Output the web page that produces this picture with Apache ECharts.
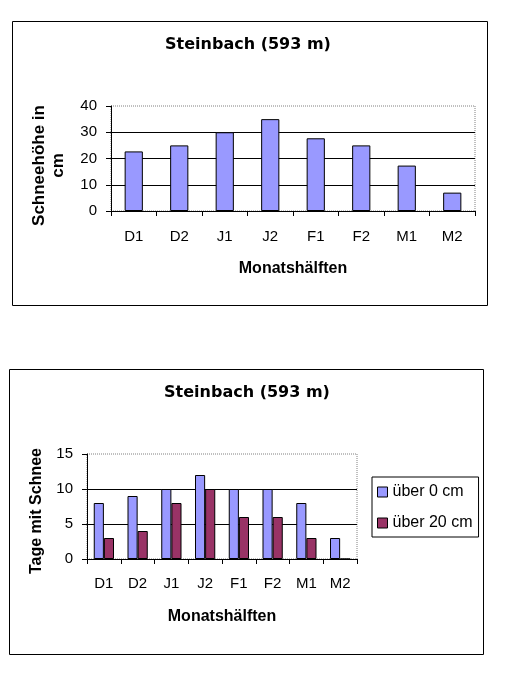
<!DOCTYPE html>
<html><head><meta charset="utf-8">
<script src="https://cdn.jsdelivr.net/npm/echarts@6/dist/echarts.min.js"></script>
<style>html,body{margin:0;padding:0;background:#fff}#c{width:510px;height:700px}</style>
</head><body><div id="c"></div><script>
// ---- data ----
const titleText = 'Steinbach (593 m)';
const categories = ['D1', 'D2', 'J1', 'J2', 'F1', 'F2', 'M1', 'M2'];
const snowDepth = [22.7, 25, 30, 35, 27.7, 25, 17.3, 7];
const daysOver0 = [8, 9, 10, 12, 10, 10, 8, 3];
const daysOver20 = [3, 4, 8, 10, 6, 6, 3, 0];
const seriesNames = ['über 0 cm', 'über 20 cm'];
const xAxisName = 'Monatshälften';
const yName1 = 'Schneehöhe in\ncm';
const yName2 = 'Tage mit Schnee';

// ---- styling ----
const F = 'Liberation Sans, Arial, sans-serif';
const TF = 'DejaVu Sans, Liberation Sans, sans-serif';
const BLUE = '#9999ff';
const RED = '#993366';

const chart = echarts.init(document.getElementById('c'), null, {renderer: 'canvas'});

function xAx(gi) {
  return {
    type: 'category', gridIndex: gi, data: categories,
    name: xAxisName, nameLocation: 'middle', nameGap: 50,
    nameTextStyle: {fontFamily: F, fontSize: 16, fontWeight: 'bold', color: '#000'},
    axisLine: {show: true, lineStyle: {color: '#000', width: 1}},
    axisTick: {show: true, length: 5, lineStyle: {color: '#000'}, alignWithLabel: false},
    axisLabel: {fontFamily: F, fontSize: 15, color: '#000', margin: gi === 0 ? 18 : 17, interval: 0},
    splitLine: {show: false}
  };
}
function yAx(gi, max, interval, name, gap, fs, lh, shift) {
  return {
    type: 'value', gridIndex: gi, min: 0, max: max, interval: interval,
    name: name, nameLocation: 'middle', nameGap: gap, nameRotate: 90,
    nameTextStyle: {fontFamily: F, fontSize: fs, fontWeight: 'bold', color: '#000', lineHeight: lh, padding: [0, shift, 0, 0]},
    axisLine: {show: true, lineStyle: {color: '#000', width: 1}},
    axisTick: {show: true, length: 5, lineStyle: {color: '#000'}},
    axisLabel: {fontFamily: F, fontSize: 15, color: '#000', margin: 14},
    splitLine: {show: true, showMinLine: false, showMaxLine: false, lineStyle: {color: '#000', width: 1}}
  };
}

const option = {
  animation: false,
  backgroundColor: '#fff',
  title: [
    {text: titleText, left: 248, top: 37, textAlign: 'center', padding: 0,
     textStyle: {fontFamily: TF, fontSize: 16, fontWeight: 'bold', color: '#000'}},
    {text: titleText, left: 247, top: 385, textAlign: 'center', padding: 0,
     textStyle: {fontFamily: TF, fontSize: 16, fontWeight: 'bold', color: '#000'}}
  ],
  graphic: [
    {type: 'rect', shape: {x: 12.5, y: 21.5, width: 475, height: 284}, style: {fill: null, stroke: '#000', lineWidth: 1}, silent: true},
    {type: 'rect', shape: {x: 9.5, y: 369.5, width: 474, height: 285}, style: {fill: null, stroke: '#000', lineWidth: 1}, silent: true}
  ],
  grid: [
    {left: 111, top: 106, width: 364, height: 105, show: true, borderColor: '#808080', borderWidth: 1, borderType: 'dotted', backgroundColor: 'transparent', containLabel: false},
    {left: 87, top: 454, width: 270, height: 105, show: true, borderColor: '#808080', borderWidth: 1, borderType: 'dotted', backgroundColor: 'transparent', containLabel: false}
  ],
  xAxis: [xAx(0), xAx(1)],
  yAxis: [yAx(0, 40, 10, yName1, 43, 17, 19, 14), yAx(1, 15, 5, yName2, 35, 16, 18, 9)],
  legend: {
    data: seriesNames, orient: 'vertical', left: 372, top: 477,
    padding: [7, 6, 6, 5], itemGap: 15, itemWidth: 10, itemHeight: 10,
    borderColor: '#000', borderWidth: 1, icon: 'rect',
    itemStyle: {borderColor: '#000', borderWidth: 1},
    textStyle: {fontFamily: F, fontSize: 16, color: '#000'}
  },
  series: [
    {type: 'bar', xAxisIndex: 0, yAxisIndex: 0, data: snowDepth, barCategoryGap: '60%',
     itemStyle: {color: BLUE, borderColor: '#000', borderWidth: 1}},
    {type: 'bar', name: seriesNames[0], xAxisIndex: 1, yAxisIndex: 1, data: daysOver0, barGap: '0%', barCategoryGap: '40%',
     itemStyle: {color: BLUE, borderColor: '#000', borderWidth: 1}},
    {type: 'bar', name: seriesNames[1], xAxisIndex: 1, yAxisIndex: 1, data: daysOver20, barGap: '0%', barCategoryGap: '40%',
     itemStyle: {color: RED, borderColor: '#000', borderWidth: 1}}
  ]
};
chart.setOption(option);
</script></body></html>
